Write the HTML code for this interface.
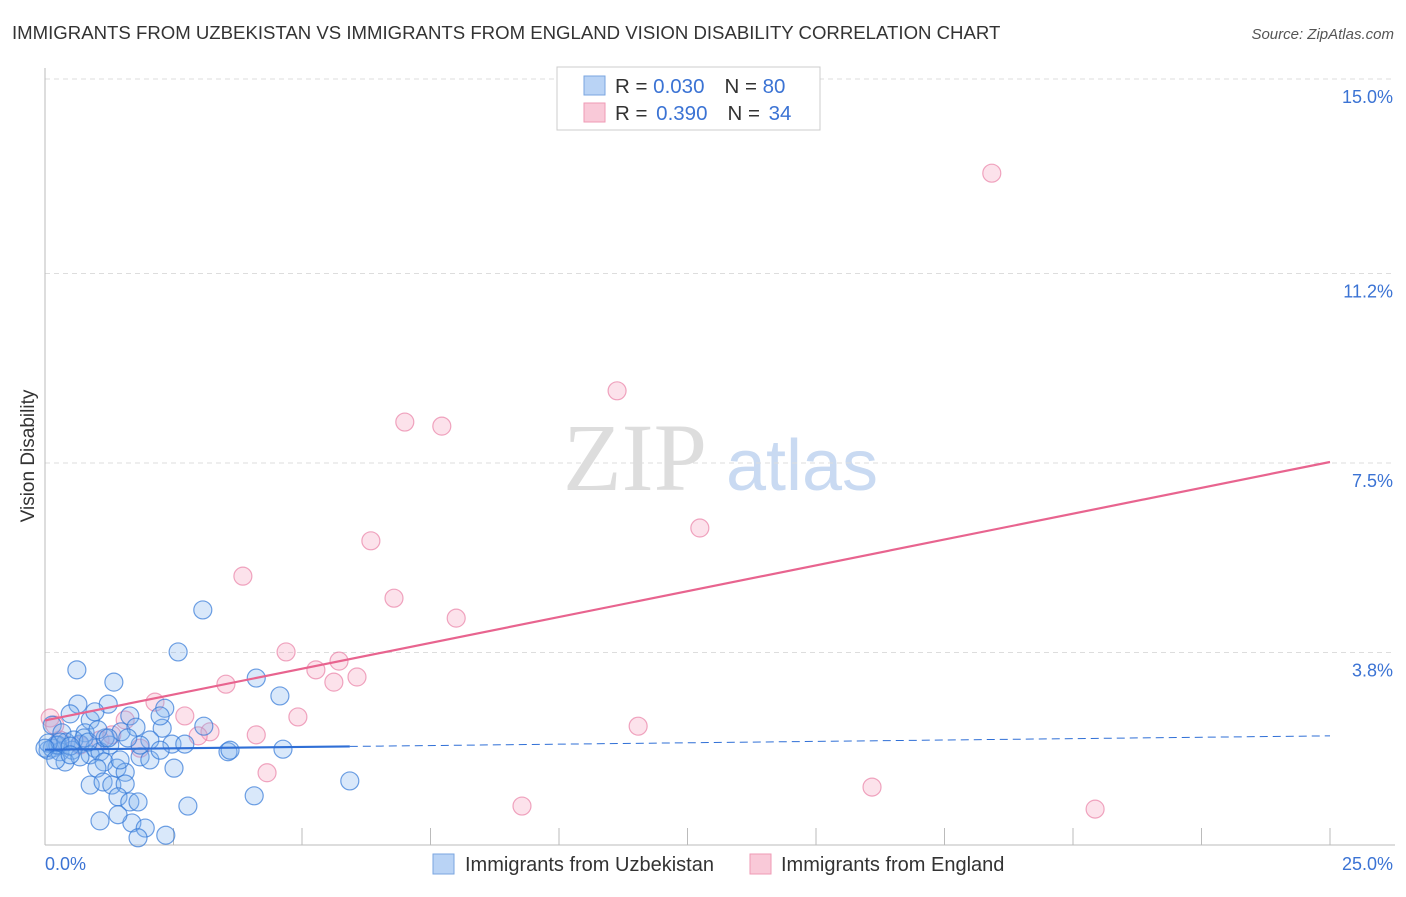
<!DOCTYPE html>
<html><head><meta charset="utf-8"><style>
body{margin:0;background:#fff;font-family:"Liberation Sans",sans-serif}
svg text{font-family:"Liberation Sans",sans-serif}
</style></head><body>
<svg id="chart" width="1406" height="892">
<text x="12" y="39" font-size="18.6" fill="#333">IMMIGRANTS FROM UZBEKISTAN VS IMMIGRANTS FROM ENGLAND VISION DISABILITY CORRELATION CHART</text>
<text x="1394" y="39" font-size="15" fill="#555" text-anchor="end" font-style="italic">Source: ZipAtlas.com</text>
<text x="34" y="456" font-size="19" fill="#333" text-anchor="middle" transform="rotate(-90 34 456)">Vision Disability</text>
<g><text x="635" y="490" font-size="96" fill="#ddd" text-anchor="middle" font-family="Liberation Serif" style="font-family:'Liberation Serif',serif">ZIP</text><text x="802" y="490" font-size="72" fill="#c9daf2" text-anchor="middle">atlas</text></g>
<g id="grid"></g><g id="axes"></g><g id="pts"></g><g id="lines"></g>
<g>
<rect x="557" y="67" width="263" height="63" fill="#fff" stroke="#ccc"/>
<rect x="584" y="76" width="21" height="19" fill="#b9d3f5" stroke="#7aa6e0"/>
<rect x="584" y="103" width="21" height="19" fill="#f9c9d8" stroke="#ef9ab5"/>
<text x="615" y="93" font-size="20.5" fill="#333">R = <tspan fill="#3b73d4">0.030</tspan><tspan dx="20">N = </tspan><tspan fill="#3b73d4">80</tspan></text>
<text x="615" y="120" font-size="20.5" fill="#333">R = <tspan fill="#3b73d4" dx="3">0.390</tspan><tspan dx="20">N = </tspan><tspan fill="#3b73d4" dx="3">34</tspan></text>
</g>
<g>
<rect x="433" y="854" width="21" height="20" fill="#b9d3f5" stroke="#7aa6e0"/>
<text x="465" y="871" font-size="20" fill="#333">Immigrants from Uzbekistan</text>
<rect x="750" y="854" width="21" height="20" fill="#f9c9d8" stroke="#ef9ab5"/>
<text x="781" y="871" font-size="20" fill="#333">Immigrants from England</text>
</g>
</svg>
<script>
const yTicks=[3.8,7.5,11.2,15.0];
const yTickLabels=["3.8%","7.5%","11.2%","15.0%"];
const xTickLabels=["0.0%","25.0%"];
const blueX=[3.07,2.59,0.62,1.34,4.11,4.57,0.64,1.23,0.49,0.88,1.65,2.33,0.14,0.33,0.78,1.48,1.77,2.28,3.09,0.21,0.41,0.68,0.97,1.26,2.04,2.47,2.72,3.56,4.63,0.06,0.14,0.29,0.53,0.88,1.07,0.39,0.68,1.15,1.85,2.04,1.01,1.40,1.56,2.51,0.88,1.13,1.30,1.56,5.93,1.42,1.65,1.81,2.78,4.07,1.07,1.69,1.95,1.81,2.35,1.42,0.25,0.06,0.56,0.76,0.29,0.49,0.84,0.97,2.24,3.60,0,1.85,1.17,1.46,0.21,1.61,1.03,1.23,0.49,2.24];
const blueY=[4.63,3.81,3.46,3.22,3.30,2.95,2.79,2.79,2.60,2.48,2.56,2.71,2.38,2.23,2.23,2.25,2.34,2.32,2.36,1.99,2.05,2.01,1.93,1.99,2.09,2.01,2.01,1.86,1.91,1.89,1.93,1.86,1.89,1.80,1.86,1.66,1.76,1.66,1.76,1.70,1.54,1.54,1.46,1.54,1.21,1.27,1.21,1.23,1.29,0.98,0.88,0.88,0.80,1.00,0.51,0.47,0.37,0.18,0.23,0.63,1.99,2.03,2.09,2.13,2.05,1.97,2.05,2.64,2.56,1.89,1.93,1.99,2.13,1.70,1.70,2.13,2.29,2.13,1.80,1.89];
const pinkX=[18.42,11.13,7.00,7.72,12.74,6.34,3.85,6.79,8.00,4.69,5.72,5.27,6.07,5.62,3.52,2.14,2.72,4.92,1.56,0.10,3.21,4.11,1.85,4.32,11.54,9.28,16.09,20.43,0.29,0.68,1.07,0.19,1.30,2.98];
const pinkY=[13.16,8.91,8.30,8.22,6.23,5.98,5.29,4.86,4.47,3.81,3.63,3.46,3.32,3.22,3.18,2.83,2.56,2.54,2.48,2.52,2.25,2.19,1.93,1.45,2.36,0.80,1.17,0.74,2.09,1.99,2.09,2.38,2.19,2.17];
const X0=45,X1=1330,Y0=847,Y15=79;
const sx=v=>X0+(X1-X0)*v/25, sy=v=>Y0-(Y0-Y15)*v/15;
const NS="http://www.w3.org/2000/svg";
function mk(p,t,a){const e=document.createElementNS(NS,t);for(const k in a)e.setAttribute(k,a[k]);p.appendChild(e);return e;}
const grid=document.getElementById('grid'),axes=document.getElementById('axes'),pts=document.getElementById('pts'),lines=document.getElementById('lines');
yTicks.forEach((t,i)=>{
 const g=mk(grid,'line',{x1:45,x2:1395,y1:sy(t),y2:sy(t),stroke:'#ddd','stroke-dasharray':'5,4'});
 
 
 const l=mk(axes,'text',{x:1393,y:sy(t)+24,'font-size':18,fill:'#3b73d4','text-anchor':'end'});l.textContent=yTickLabels[i];
 
 
});
const ax=mk(axes,'line',{x1:45,x2:45,y1:68,y2:845,stroke:'#bbb'});


const bx=mk(axes,'line',{x1:45,x2:1395,y1:845,y2:845,stroke:'#bbb'});


for(let i=1;i<=10;i++){const t=mk(axes,'line',{x1:sx(i*2.5),x2:sx(i*2.5),y1:828,y2:845,stroke:'#bbb'});
 
 }
const xl0=mk(axes,'text',{x:45,y:870,'font-size':18,fill:'#3b73d4'});xl0.textContent=xTickLabels[0];


const xl1=mk(axes,'text',{x:1393,y:870,'font-size':18,fill:'#3b73d4','text-anchor':'end'});xl1.textContent=xTickLabels[1];


function dots(X,Y,fill,stroke,name){X.forEach((x,i)=>{const c=mk(pts,'circle',{cx:sx(x),cy:sy(Y[i]),r:9,fill:fill,stroke:stroke,'stroke-width':1.2});
 
 });}
dots(pinkX,pinkY,'rgba(245,160,190,0.3)','rgba(232,120,160,0.65)','england-point');
dots(blueX,blueY,'rgba(130,178,238,0.3)','rgba(50,120,215,0.7)','uzbekistan-point');
function fit(X,Y){const n=X.length;let mx=0,my=0;X.forEach((x,i)=>{mx+=x;my+=Y[i];});mx/=n;my/=n;let sxy=0,sxx=0;X.forEach((x,i)=>{sxy+=(x-mx)*(Y[i]-my);sxx+=(x-mx)*(x-mx);});const b=sxy/sxx;return [my-b*mx,b];}
const [pa,pb]=fit(pinkX,pinkY);
const pl=mk(lines,'line',{x1:sx(0),y1:sy(pa),x2:sx(25),y2:sy(pa+pb*25),stroke:'#e8648f','stroke-width':2.2});


const [ba,bb]=fit(blueX,blueY);const bmax=Math.max(...blueX);
const bl=mk(lines,'line',{x1:sx(0),y1:sy(ba),x2:sx(bmax),y2:sy(ba+bb*bmax),stroke:'#2f6fd6','stroke-width':2.2});


const bd=mk(lines,'line',{x1:sx(bmax),y1:sy(ba+bb*bmax),x2:sx(25),y2:sy(ba+bb*25),stroke:'#2f6fd6','stroke-width':1,'stroke-dasharray':'8,5'});


</script>
</body></html>
